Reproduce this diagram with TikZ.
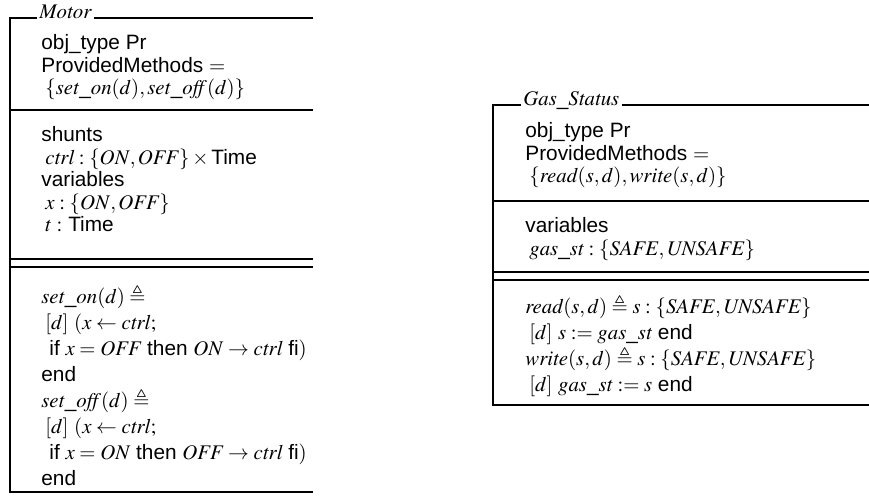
\documentclass[tikz,border=0pt]{standalone}
\usepackage{mathptmx}
\usepackage{amssymb}
\usepackage[no-math]{fontspec}
\setmainfont{Liberation Sans}
\usetikzlibrary{positioning}
\newcommand{\zind}{\hspace*{2pt}}

\begin{document}
\begin{tikzpicture}[x=0.5pt,y=-0.5pt,
  frame/.style={line width=1.2pt},
  lbl/.style={inner xsep=1pt,inner ysep=0pt,anchor=base west,font=\fontsize{10.4}{11.3}\selectfont},
  txt/.style={inner sep=0pt,anchor=north west,align=left,font=\fontsize{10.4}{11.3}\selectfont},
  optxt/.style={txt,font=\fontsize{10.4}{13}\selectfont}
]
\useasboundingbox (0,0) rectangle (869,495);

\node[lbl] (motorname) at (37,18) {$\mathit{Motor}$};
\draw[frame] (motorname.base west) -- (10,18) -- (10,492) -- (313,492);
\draw[frame] (motorname.base east) -- (313,18);
\draw[frame] (10,110) -- (313,110);
\draw[frame] (10,259) -- (313,259);
\draw[frame] (10,267) -- (313,267);

\node[txt] (motorhead) at (41,34) {obj\_type Pr\\
  ProvidedMethods $=$\\
  \zind$\{\mathit{set\_on}(d),\mathit{set\_off}(d)\}$};
\node[txt] (motorvars) at (41,126) {shunts\\
  \zind$\mathit{ctrl}:\{\mathit{ON},\mathit{OFF}\}\times{}$Time\\
  variables\\
  \zind$x:\{\mathit{ON},\mathit{OFF}\}$\\
  \zind$t:$ Time};
\node[optxt] (motorops) at (41,284) {$\mathit{set\_on}(d)\triangleq{}$\\
  \zind$[d]$ $(x\leftarrow\mathit{ctrl};$\\
  \zind\zind if $x=\mathit{OFF}$ then $\mathit{ON}\rightarrow\mathit{ctrl}$ fi$)$\\
  end\\
  $\mathit{set\_off}(d)\triangleq{}$\\
  \zind$[d]$ $(x\leftarrow\mathit{ctrl};$\\
  \zind\zind if $x=\mathit{ON}$ then $\mathit{OFF}\rightarrow\mathit{ctrl}$ fi$)$\\
  end};

\node[lbl] (gasname) at (521,105) {$\mathit{Gas\_Status}$};
\draw[frame] (gasname.base west) -- (493,105) -- (493,405) -- (869,405);
\draw[frame] (gasname.base east) -- (869,105);
\draw[frame] (493,201) -- (869,201);
\draw[frame] (493,272) -- (869,272);
\draw[frame] (493,280) -- (869,280);

\node[txt] (gashead) at (525,122) {obj\_type Pr\\
  ProvidedMethods $=$\\
  \zind$\{\mathit{read}(s,d),\mathit{write}(s,d)\}$};
\node[txt] (gasvars) at (525,217) {variables\\
  \zind$\mathit{gas\_st}:\{\mathit{SAFE},\mathit{UNSAFE}\}$};
\node[optxt] (gasops) at (525,294) {$\mathit{read}(s,d)\triangleq s:\{\mathit{SAFE},\mathit{UNSAFE}\}$\\
  \zind$[d]$ $s:=\mathit{gas\_st}$ end\\
  $\mathit{write}(s,d)\triangleq s:\{\mathit{SAFE},\mathit{UNSAFE}\}$\\
  \zind$[d]$ $\mathit{gas\_st}:=s$ end};
\end{tikzpicture}
\end{document}
